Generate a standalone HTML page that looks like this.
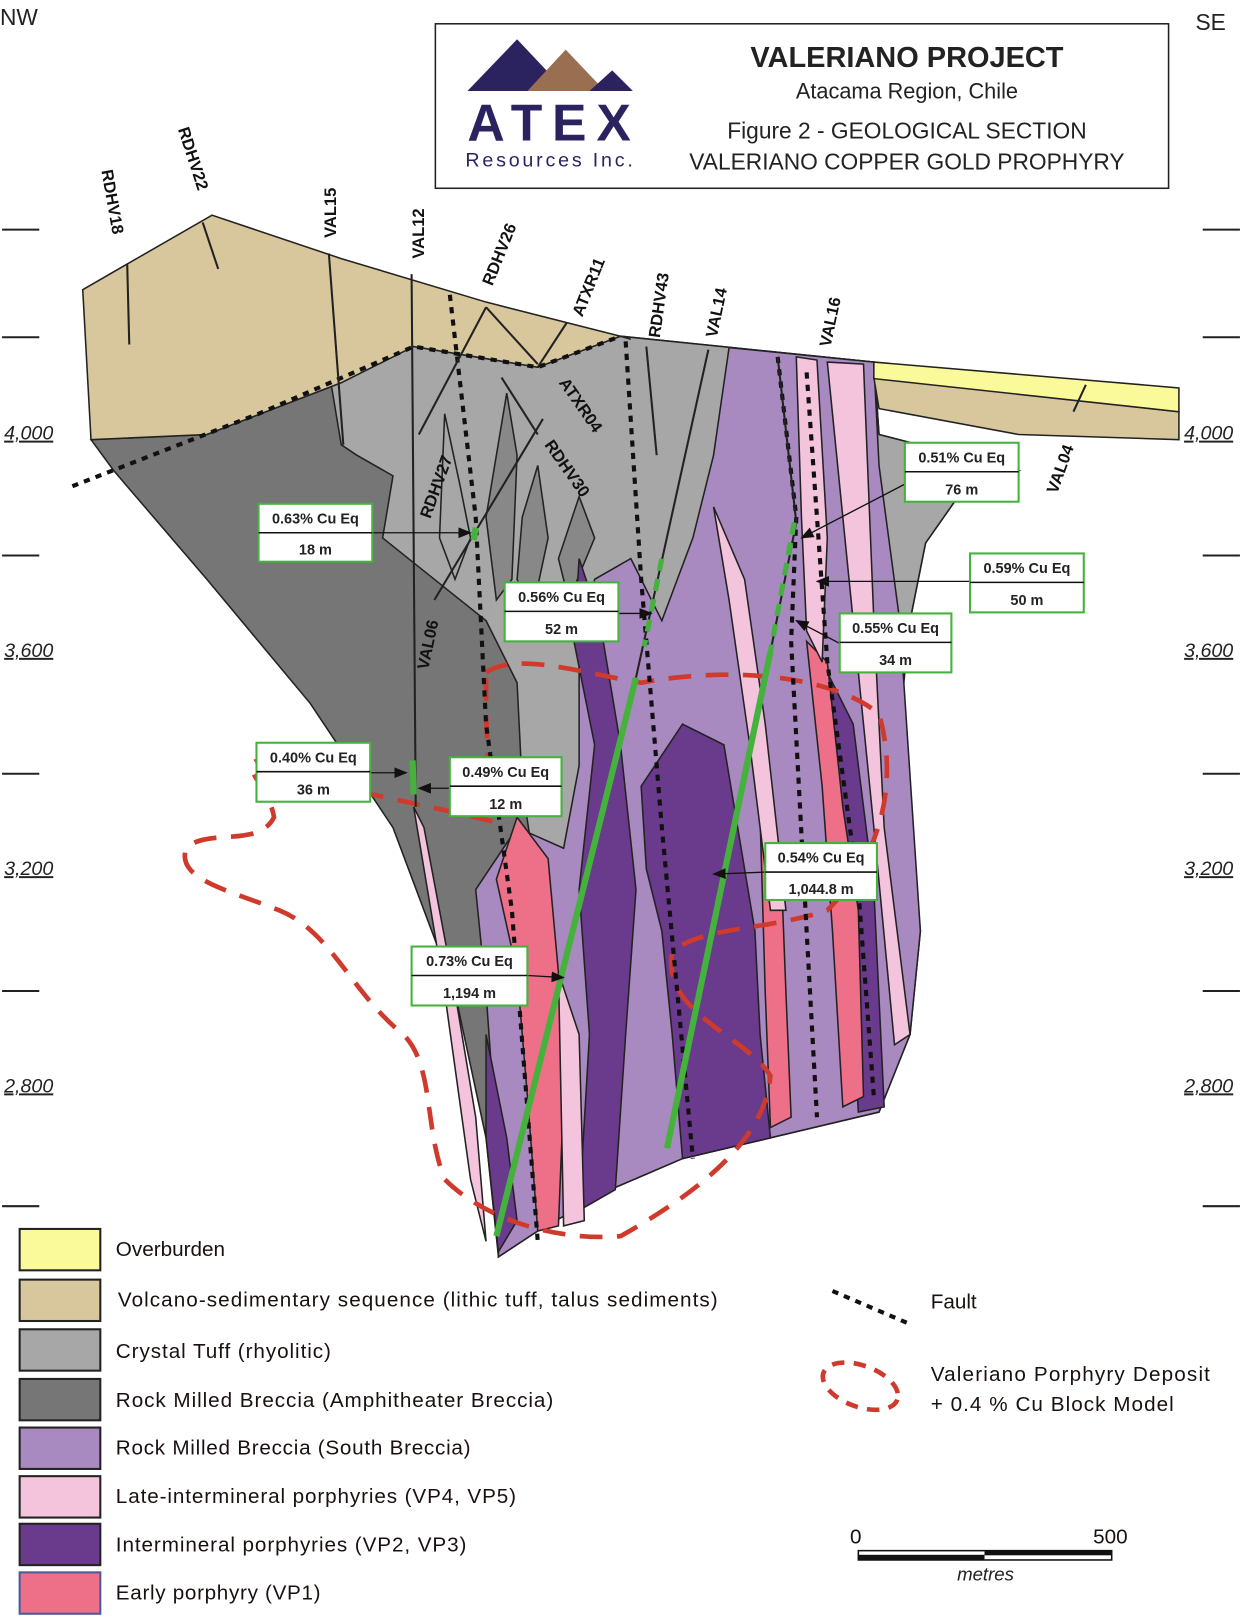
<!DOCTYPE html>
<html><head><meta charset="utf-8"><style>
html,body{margin:0;padding:0;background:#fff}
svg{display:block}
text{font-family:"Liberation Sans",sans-serif}
.lg{font-size:20px;fill:#1a1010}
.cb{font-size:14px;font-weight:bold;fill:#222}
.dl{font-size:16px;font-weight:bold;fill:#111}
.el{font-size:19px;font-style:italic;fill:#222;text-decoration:underline}
</style></head><body>
<svg width="1242" height="1621" viewBox="0 0 1201 1567" preserveAspectRatio="none" xmlns="http://www.w3.org/2000/svg">
<defs>
<marker id="ar" markerWidth="10" markerHeight="8" refX="9" refY="4" orient="auto"><path d="M0,0 L10,4 L0,8 z" fill="#111"/></marker>
</defs>
<!-- corner labels -->
<text x="0" y="24" font-size="22" fill="#222">NW</text>
<text x="1156" y="29" font-size="22" fill="#222">SE</text>
<!-- header box -->
<rect x="421" y="23" width="709" height="159" fill="#fff" stroke="#222" stroke-width="1.5"/>
<polygon points="452,88 500,38 535,75 520,88" fill="#2a2360"/>
<polygon points="510,88 547,48 585,88" fill="#9a6e50"/>
<polygon points="570,88 592,68 612,88" fill="#2a2360"/>
<text x="452" y="136" font-family="Liberation Serif" font-weight="bold" font-size="50" fill="#2a2360" textLength="158">ATEX</text>
<text x="450" y="161" font-size="19" fill="#2a2360" textLength="162">Resources Inc.</text>
<text x="877" y="65" text-anchor="middle" font-size="28" font-weight="bold" fill="#222">VALERIANO PROJECT</text>
<text x="877" y="95" text-anchor="middle" font-size="21" fill="#222">Atacama Region, Chile</text>
<text x="877" y="134" text-anchor="middle" font-size="22" fill="#222">Figure 2 - GEOLOGICAL SECTION</text>
<text x="877" y="164" text-anchor="middle" font-size="22" fill="#222">VALERIANO COPPER GOLD PROPHYRY</text>
<!-- elevation ticks -->
<g stroke="#222" stroke-width="2">
<line x1="2" y1="222" x2="38" y2="222"/><line x1="2" y1="326" x2="38" y2="326"/><line x1="2" y1="537" x2="38" y2="537"/><line x1="2" y1="748" x2="38" y2="748"/><line x1="2" y1="958" x2="38" y2="958"/><line x1="2" y1="1166" x2="38" y2="1166"/>
<line x1="1163" y1="222" x2="1199" y2="222"/><line x1="1163" y1="326" x2="1199" y2="326"/><line x1="1163" y1="537" x2="1199" y2="537"/><line x1="1163" y1="748" x2="1199" y2="748"/><line x1="1163" y1="958" x2="1199" y2="958"/><line x1="1163" y1="1166" x2="1199" y2="1166"/>
</g>
<text class="el" x="4" y="425">4,000</text><text class="el" x="4" y="635">3,600</text><text class="el" x="4" y="846">3,200</text><text class="el" x="4" y="1056">2,800</text>
<text class="el" x="1145" y="425">4,000</text><text class="el" x="1145" y="635">3,600</text><text class="el" x="1145" y="846">3,200</text><text class="el" x="1145" y="1056">2,800</text>

<!-- section body -->
<g stroke="#222" stroke-width="1.5">
<!-- dark grey overall -->
<path d="M88,425 L200,420 L330,370 L400,335 L520,355 L600,325 L845,350 L850,420 L985,455 L930,475 L895,525 L880,600 L870,680 L890,900 L880,1000 L850,1075 L660,1120 L590,1150 L520,1190 L482,1215 L470,1100 L440,960 L380,800 L300,680 L200,560 L110,455 Z" fill="#767676"/>
<!-- light grey crystal tuff -->
<path d="M330,430 L320,370 L400,335 L520,355 L600,325 L845,350 L850,420 L985,455 L930,475 L895,525 L880,600 L870,700 L700,720 L600,760 L560,800 L520,860 L505,760 L500,660 L470,600 L420,560 L370,520 L380,460 L345,440 Z" fill="#a7a7a7"/>
<path d="M430,400 L445,470 L455,520 L440,560 L425,520 Z" fill="#a7a7a7"/>
<path d="M490,380 L500,440 L495,560 L480,580 L470,500 Z" fill="#888"/>
<path d="M520,450 L530,520 L515,590 L500,560 L505,500 Z" fill="#888"/>
<path d="M560,480 L575,520 L550,580 L540,540 Z" fill="#888"/>
<!-- south breccia -->
<path d="M705,336 L845,350 L850,450 L870,600 L890,900 L880,1000 L850,1075 L660,1120 L590,1150 L520,1190 L482,1215 L480,1100 L470,960 L460,860 L500,800 L545,820 L560,740 L560,640 L575,560 L610,540 L640,600 L670,520 L690,440 Z" fill="#a98ac0"/>
<!-- dark purple -->
<path d="M560,540 L580,600 L600,720 L615,860 L605,1000 L595,1150 L560,1170 L570,1000 L560,860 L575,720 L555,620 Z" fill="#6a3a8c"/>
<path d="M620,760 L660,700 L700,720 L730,900 L735,1000 L745,1100 L660,1120 L650,1000 L640,900 L625,840 Z" fill="#6a3a8c"/>
<path d="M800,650 L825,700 L845,860 L855,1070 L830,1075 L820,900 L805,760 Z" fill="#6a3a8c"/>
<path d="M470,1000 L490,1100 L500,1180 L482,1210 L470,1100 Z" fill="#6a3a8c"/>
<!-- early porphyry pink -->
<path d="M500,790 L530,830 L540,940 L545,1060 L540,1185 L520,1190 L510,1060 L500,940 L480,850 Z" fill="#ee7088"/>
<path d="M780,620 L800,640 L815,780 L830,880 L835,1060 L815,1070 L805,900 L795,760 Z" fill="#ee7088"/>
<path d="M735,790 L755,830 L760,960 L765,1080 L745,1090 L740,960 Z" fill="#ee7088"/>
<!-- late pink -->
<path d="M770,345 L790,348 L800,520 L795,640 L780,610 L775,500 Z" fill="#f3c4dc"/>
<path d="M800,350 L835,352 L845,600 L855,800 L880,1000 L865,1010 L845,800 L825,600 L810,450 Z" fill="#f3c4dc"/>
<path d="M690,490 L720,560 L740,700 L760,880 L745,880 L725,720 L705,580 Z" fill="#f3c4dc"/>
<path d="M400,780 L410,800 L440,960 L460,1080 L470,1200 L455,1140 L430,960 Z" fill="#f3c4dc"/>
<path d="M540,940 L560,1000 L565,1180 L545,1185 Z" fill="#f3c4dc"/>
</g>
<!-- tan volcano-sedimentary -->
<path d="M80,280 L205,208 L330,250 L470,292 L600,325 L610,328 L600,325 L520,355 L400,335 L330,370 L200,420 L88,425 Z" fill="#d8c79c" stroke="#222" stroke-width="1.5"/>
<path d="M845,365 L1140,398 L1140,425 L985,420 L850,395 Z" fill="#d8c79c" stroke="#222" stroke-width="1.5"/>
<path d="M845,350 L1140,375 L1140,398 L845,366 Z" fill="#fafa9a" stroke="#222" stroke-width="1.5"/>
<!-- red dashed block model -->
<path d="M470,650 C500,630 560,650 620,660 C700,645 800,650 850,690 C870,760 850,830 800,880 C740,900 680,895 650,920 C640,980 720,1000 745,1040 C740,1100 680,1150 600,1195 C540,1200 470,1180 430,1140 C410,1090 420,1030 390,1000 C340,960 320,900 270,880 C220,860 170,850 180,820 C200,800 250,820 265,790 C260,760 230,740 250,735 C300,760 380,770 480,795 C470,750 470,700 470,650 Z" fill="none" stroke="#cf3a2c" stroke-width="4.5" stroke-dasharray="22,14"/>
<!-- faults -->
<g fill="none" stroke="#111" stroke-width="4" stroke-dasharray="6,6">
<path d="M70,470 L250,400 L400,335 L520,355 L600,325"/>
<path d="M435,285 L460,500 L470,700 L495,880 L520,1200"/>
<path d="M605,330 L620,560 L640,800 L670,1120"/>
<path d="M752,345 L770,500 L765,620 L780,900 L790,1080"/>
<path d="M780,360 L800,640 L830,860 L845,1060"/>
</g>
<!-- drill holes -->
<g stroke="#222" stroke-width="2">
<line x1="123" y1="255" x2="125" y2="333"/>
<line x1="196" y1="215" x2="211" y2="260"/>
<line x1="318" y1="245" x2="332" y2="430"/>
<line x1="398" y1="265" x2="402" y2="780"/>
<line x1="470" y1="297" x2="405" y2="420"/>
<line x1="470" y1="297" x2="520" y2="352"/>
<line x1="548" y1="312" x2="520" y2="355"/>
<line x1="485" y1="365" x2="520" y2="420"/>
<line x1="525" y1="405" x2="420" y2="580"/>
<line x1="625" y1="335" x2="635" y2="440"/>
<line x1="685" y1="338" x2="615" y2="655"/>
<line x1="752" y1="345" x2="770" y2="505"/>
<line x1="1050" y1="372" x2="1038" y2="398"/>
<line x1="770" y1="505" x2="745" y2="630"/>
</g>
<!-- green intervals -->
<g stroke="#44b23c" stroke-width="6">
<line x1="480" y1="1195" x2="615" y2="655"/>
<line x1="645" y1="1110" x2="745" y2="630"/>
<line x1="399" y1="735" x2="400" y2="768"/>
<line x1="460" y1="510" x2="458" y2="522"/>
</g>
<g stroke="#44b23c" stroke-width="5" stroke-dasharray="12,8">
<line x1="640" y1="540" x2="623" y2="625"/>
<line x1="768" y1="505" x2="745" y2="630"/>
</g>
<!-- drill labels -->
<g class="dl">
<text transform="translate(98,165) rotate(80)">RDHV18</text>
<text transform="translate(172,125) rotate(72)">RDHV22</text>
<text transform="translate(325,230) rotate(-90)">VAL15</text>
<text transform="translate(410,250) rotate(-90)">VAL12</text>
<text transform="translate(476,277) rotate(-68)">RDHV26</text>
<text transform="translate(563,307) rotate(-68)">ATXR11</text>
<text transform="translate(638,327) rotate(-82)">RDHV43</text>
<text transform="translate(693,327) rotate(-78)">VAL14</text>
<text transform="translate(803,336) rotate(-78)">VAL16</text>
<text transform="translate(540,370) rotate(55)">ATXR04</text>
<text transform="translate(526,430) rotate(55)">RDHV30</text>
<text transform="translate(416,502) rotate(-70)">RDHV27</text>
<text transform="translate(414,648) rotate(-78)">VAL06</text>
<text transform="translate(1022,478) rotate(-70)">VAL04</text>
</g>
<!-- callouts -->
<g stroke="#111" stroke-width="1.3" marker-end="url(#ar)">
<line x1="360" y1="515" x2="455" y2="515"/>
<line x1="598" y1="593" x2="630" y2="593"/>
<line x1="875" y1="468" x2="775" y2="520"/>
<line x1="938" y1="562" x2="790" y2="562"/>
<line x1="812" y1="622" x2="770" y2="600"/>
<line x1="358" y1="747" x2="393" y2="747"/>
<line x1="435" y1="762" x2="405" y2="762"/>
<line x1="740" y1="843" x2="690" y2="845"/>
<line x1="510" y1="943" x2="545" y2="945"/>
</g>
<g>
<g transform="translate(250,487)"><rect width="110" height="56" fill="#fff" stroke="#44b23c" stroke-width="2"/><line x1="0" y1="28" x2="110" y2="28" stroke="#111" stroke-width="1.5"/><text class="cb" x="55" y="19" text-anchor="middle">0.63% Cu Eq</text><text class="cb" x="55" y="49" text-anchor="middle">18 m</text></g>
<g transform="translate(488,563)"><rect width="110" height="57" fill="#fff" stroke="#44b23c" stroke-width="2"/><line x1="0" y1="28" x2="110" y2="28" stroke="#111" stroke-width="1.5"/><text class="cb" x="55" y="19" text-anchor="middle">0.56% Cu Eq</text><text class="cb" x="55" y="50" text-anchor="middle">52 m</text></g>
<g transform="translate(875,428)"><rect width="110" height="57" fill="#fff" stroke="#44b23c" stroke-width="2"/><line x1="0" y1="28" x2="110" y2="28" stroke="#111" stroke-width="1.5"/><text class="cb" x="55" y="19" text-anchor="middle">0.51% Cu Eq</text><text class="cb" x="55" y="50" text-anchor="middle">76 m</text></g>
<g transform="translate(938,535)"><rect width="110" height="57" fill="#fff" stroke="#44b23c" stroke-width="2"/><line x1="0" y1="28" x2="110" y2="28" stroke="#111" stroke-width="1.5"/><text class="cb" x="55" y="19" text-anchor="middle">0.59% Cu Eq</text><text class="cb" x="55" y="50" text-anchor="middle">50 m</text></g>
<g transform="translate(812,593)"><rect width="108" height="57" fill="#fff" stroke="#44b23c" stroke-width="2"/><line x1="0" y1="28" x2="108" y2="28" stroke="#111" stroke-width="1.5"/><text class="cb" x="54" y="19" text-anchor="middle">0.55% Cu Eq</text><text class="cb" x="54" y="50" text-anchor="middle">34 m</text></g>
<g transform="translate(248,718)"><rect width="110" height="57" fill="#fff" stroke="#44b23c" stroke-width="2"/><line x1="0" y1="28" x2="110" y2="28" stroke="#111" stroke-width="1.5"/><text class="cb" x="55" y="19" text-anchor="middle">0.40% Cu Eq</text><text class="cb" x="55" y="50" text-anchor="middle">36 m</text></g>
<g transform="translate(435,732)"><rect width="108" height="57" fill="#fff" stroke="#44b23c" stroke-width="2"/><line x1="0" y1="28" x2="108" y2="28" stroke="#111" stroke-width="1.5"/><text class="cb" x="54" y="19" text-anchor="middle">0.49% Cu Eq</text><text class="cb" x="54" y="50" text-anchor="middle">12 m</text></g>
<g transform="translate(740,815)"><rect width="108" height="55" fill="#fff" stroke="#44b23c" stroke-width="2"/><line x1="0" y1="28" x2="108" y2="28" stroke="#111" stroke-width="1.5"/><text class="cb" x="54" y="19" text-anchor="middle">0.54% Cu Eq</text><text class="cb" x="54" y="49" text-anchor="middle">1,044.8 m</text></g>
<g transform="translate(398,915)"><rect width="112" height="57" fill="#fff" stroke="#44b23c" stroke-width="2"/><line x1="0" y1="28" x2="112" y2="28" stroke="#111" stroke-width="1.5"/><text class="cb" x="56" y="19" text-anchor="middle">0.73% Cu Eq</text><text class="cb" x="56" y="50" text-anchor="middle">1,194 m</text></g>
</g>
<!-- legend -->
<g stroke="#222" stroke-width="2">
<rect x="19" y="1188" width="78" height="40" fill="#fafa9a"/>
<rect x="19" y="1237" width="78" height="40" fill="#d8c79c"/>
<rect x="19" y="1285" width="78" height="40" fill="#a7a7a7"/>
<rect x="19" y="1333" width="78" height="40" fill="#767676"/>
<rect x="19" y="1380" width="78" height="40" fill="#a98ac0"/>
<rect x="19" y="1427" width="78" height="40" fill="#f3c4dc"/>
<rect x="19" y="1473" width="78" height="40" fill="#6a3a8c"/>
<rect x="19" y="1520" width="78" height="40" fill="#ee7088" stroke="#4a5a9a"/>
</g>
<text class="lg" x="112" y="1214">Overburden</text>
<text class="lg" x="114" y="1263" textLength="580">Volcano-sedimentary sequence (lithic tuff, talus sediments)</text>
<text class="lg" x="112" y="1313" textLength="208">Crystal Tuff (rhyolitic)</text>
<text class="lg" x="112" y="1360" textLength="423">Rock Milled Breccia (Amphitheater Breccia)</text>
<text class="lg" x="112" y="1406" textLength="343">Rock Milled Breccia (South Breccia)</text>
<text class="lg" x="112" y="1453" textLength="387">Late-intermineral porphyries (VP4, VP5)</text>
<text class="lg" x="112" y="1500" textLength="339">Intermineral porphyries (VP2, VP3)</text>
<text class="lg" x="112" y="1546" textLength="198">Early porphyry (VP1)</text>
<line x1="805" y1="1248" x2="880" y2="1280" stroke="#111" stroke-width="4" stroke-dasharray="6,6"/>
<text class="lg" x="900" y="1265">Fault</text>
<ellipse cx="832" cy="1340" rx="38" ry="20" transform="rotate(20 832 1340)" fill="none" stroke="#cf3a2c" stroke-width="4.5" stroke-dasharray="12,9"/>
<text class="lg" x="900" y="1335" textLength="270">Valeriano Porphyry Deposit</text>
<text class="lg" x="900" y="1364" textLength="235">+ 0.4 % Cu  Block Model</text>
<text class="lg" x="822" y="1492">0</text>
<text class="lg" x="1057" y="1492">500</text>
<rect x="830" y="1499" width="245" height="9" fill="#fff" stroke="#111" stroke-width="1.5"/>
<rect x="830" y="1503" width="122" height="5" fill="#111"/>
<rect x="952" y="1499" width="123" height="4.5" fill="#111"/>
<text x="953" y="1528" text-anchor="middle" font-size="18" font-style="italic" fill="#222">metres</text>
</svg>
</body></html>
